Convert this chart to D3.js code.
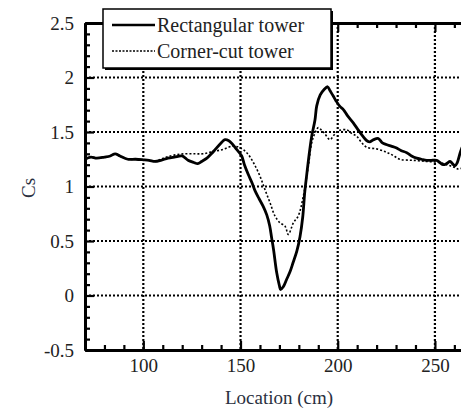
<!DOCTYPE html>
<html>
<head>
<style>
    body { margin: 0; background: #fff; }
</style>
<script src="https://d3js.org/d3.v7.min.js"></script>
</head>
<body>

<svg width="461" height="409"></svg>

<script>

    // Rectangular tower (solid)
    var rectLoc = [70, 73, 76, 80, 83, 85.5, 88, 92, 96, 100, 103, 106, 109, 112.7, 116, 120, 123, 126, 128, 130,
        132.7, 135, 137, 140, 142, 144, 146, 148, 150.6, 152, 154, 156, 157.5, 159.5, 161.6, 163.5, 165, 166, 167, 168.6,
        170, 170.6, 172, 173.7, 175.5, 177, 179, 180.6, 182, 183, 184, 185, 186.6, 188.3, 189.2, 191, 193, 194.8, 196, 197.7,
        199, 201, 202.9, 205, 208, 210.5, 213, 215, 216.6, 218.5, 220.9, 223, 225, 227.5, 230, 232.5, 235.5, 238, 240.6, 243,
        245.8, 248, 250.9, 252.5, 254.3, 256, 257.8, 259, 260.3, 261.5, 263, 264];
    var rectCs = [1.25, 1.27, 1.26, 1.27, 1.28, 1.30, 1.28, 1.25, 1.25, 1.245, 1.24, 1.23, 1.24, 1.26, 1.27, 1.28, 1.24, 1.22, 1.21, 1.23,
        1.26, 1.30, 1.34, 1.40, 1.43, 1.42, 1.385, 1.34, 1.28, 1.20, 1.11, 1.03, 0.96, 0.89, 0.82, 0.74, 0.64, 0.53, 0.42, 0.21,
        0.09, 0.055, 0.08, 0.147, 0.22, 0.30, 0.41, 0.54, 0.72, 0.94, 1.10, 1.25, 1.46, 1.61, 1.74, 1.84, 1.89, 1.915, 1.88, 1.83,
        1.79, 1.737, 1.706, 1.65, 1.584, 1.52, 1.46, 1.42, 1.41, 1.43, 1.44, 1.40, 1.385, 1.37, 1.355, 1.33, 1.31, 1.28, 1.26, 1.25,
        1.24, 1.24, 1.24, 1.22, 1.20, 1.21, 1.23, 1.21, 1.19, 1.22, 1.31, 1.36];

    // Corner-cut tower (dotted)
    var cutLoc = [70, 73, 76, 80, 83, 85.5, 88, 92, 96, 100, 103, 106, 109, 112, 116.3, 121.4, 126.6, 130.7, 135.8, 141,
        146, 149.7, 153.2, 156.6, 160, 162.6, 165.2, 167.7, 170.3, 172.9, 174.6, 177.2, 179.7, 182.3, 184.9, 186.6, 188.3, 190, 191.5, 193.5,
        196, 198, 200.3, 204.6, 207, 209.8, 212, 214.9, 220, 225, 228, 232, 238.9, 245.8, 252.6, 256, 259.5, 262, 264];
    var cutCs = [1.25, 1.27, 1.26, 1.27, 1.28, 1.30, 1.28, 1.25, 1.25, 1.245, 1.24, 1.23, 1.25, 1.27, 1.29, 1.30, 1.30, 1.30, 1.32, 1.34,
        1.37, 1.355, 1.31, 1.22, 1.095, 0.97, 0.85, 0.73, 0.667, 0.636, 0.56, 0.667, 0.73, 0.91, 1.19, 1.40, 1.49, 1.54, 1.52, 1.48,
        1.43, 1.47, 1.51, 1.52, 1.49, 1.46, 1.41, 1.36, 1.345, 1.315, 1.29, 1.25, 1.24, 1.23, 1.22, 1.20, 1.18, 1.16, 1.17];

    var xMajor = [100, 150, 200, 250];
    var yMajor = [-0.5, 0, 0.5, 1, 1.5, 2, 2.5];
    var yGrid = [0, 0.5, 1, 1.5, 2];
    var seriesNames = ["Rectangular tower", "Corner-cut tower"];

    var serif = "'Liberation Serif', 'Times New Roman', serif";
    var svg = d3.select("svg");

    // plot area is cut on the right by the picture edge
    var plotLeft = 85, plotTop = 23, plotBottom = 350;
    var xScale = d3.scaleLinear().domain([70, 270]).range([plotLeft, plotLeft + 200 * 1.944]);
    var yScale = d3.scaleLinear().domain([-0.5, 2.5]).range([plotBottom, plotTop]);

    var xMinor = d3.range(70, 271, 10).filter(function (d) { return xMajor.indexOf(d) < 0; });
    var yMinor = d3.range(-5, 26, 1).map(function (d) { return d / 10; })
        .filter(function (d) { return yMajor.indexOf(d) < 0; });

    // dotted grid
    var grid = svg.append("g");
    grid.selectAll(".vg").data(xMajor).enter().append("line")
        .attr("x1", function (d) { return xScale(d); })
        .attr("x2", function (d) { return xScale(d); })
        .attr("y1", plotTop).attr("y2", plotBottom)
        .attr("stroke", "#000").attr("stroke-width", 2.2).attr("stroke-dasharray", "2,2");
    grid.selectAll(".hg").data(yGrid).enter().append("line")
        .attr("x1", plotLeft).attr("x2", 461)
        .attr("y1", function (d) { return yScale(d); })
        .attr("y2", function (d) { return yScale(d); })
        .attr("stroke", "#000").attr("stroke-width", 2.2).attr("stroke-dasharray", "2,2");

    // curves
    var line = d3.line()
        .x(function (d) { return xScale(d[0]); })
        .y(function (d) { return yScale(d[1]); })
        .curve(d3.curveCatmullRom);

    var cutData = cutLoc.map(function (d, i) { return [d, cutCs[i]]; });
    var rectData = rectLoc.map(function (d, i) { return [d, rectCs[i]]; });

    svg.append("path").datum(cutData)
        .attr("d", line).attr("fill", "none")
        .attr("stroke", "#000").attr("stroke-width", 1.6).attr("stroke-dasharray", "2,2");
    svg.append("path").datum(rectData)
        .attr("d", line).attr("fill", "none")
        .attr("stroke", "#000").attr("stroke-width", 2.8).attr("stroke-linejoin", "round");

    // axes, ticks inward
    function styleAxis(g) {
        g.attr("font-family", serif).attr("font-size", 19);
        g.select(".domain").attr("stroke-width", 3);
        g.selectAll(".tick line").attr("stroke-width", 2.2);
        g.selectAll(".tick text").style("font-family", serif).style("font-size", "19px").attr("fill", "#222");
    }

    svg.append("g").attr("transform", "translate(" + plotLeft + ",0)")
        .call(d3.axisLeft(yScale).tickValues(yMinor).tickSize(-5).tickSizeOuter(0).tickFormat(""))
        .call(styleAxis);
    svg.append("g").attr("transform", "translate(" + plotLeft + ",0)")
        .call(d3.axisLeft(yScale).tickValues(yMajor).tickSize(-9).tickSizeOuter(0).tickPadding(11)
            .tickFormat(function (d) { return d; }))
        .call(styleAxis);

    svg.append("g").attr("transform", "translate(0," + plotBottom + ")")
        .call(d3.axisBottom(xScale).tickValues(xMinor).tickSize(-5).tickSizeOuter(0).tickFormat(""))
        .call(styleAxis);
    svg.append("g").attr("transform", "translate(0," + plotBottom + ")")
        .call(d3.axisBottom(xScale).tickValues(xMajor).tickSize(-9).tickSizeOuter(0).tickPadding(9))
        .call(styleAxis);

    svg.append("g").attr("transform", "translate(0," + plotTop + ")")
        .call(d3.axisTop(xScale).tickValues(xMinor).tickSize(-5).tickSizeOuter(0).tickFormat(""))
        .call(styleAxis);
    svg.append("g").attr("transform", "translate(0," + plotTop + ")")
        .call(d3.axisTop(xScale).tickValues(xMajor).tickSize(-9).tickSizeOuter(0).tickFormat(""))
        .call(styleAxis);

    // axis titles
    svg.append("text")
        .attr("transform", "translate(35,188) rotate(-90)")
        .attr("text-anchor", "middle").style("font-family", serif).style("font-size", "19px")
        .attr("fill", "#2a3040").text("Cs");
    svg.append("text")
        .attr("x", 279).attr("y", 404)
        .attr("text-anchor", "middle").style("font-family", serif).style("font-size", "19px")
        .attr("fill", "#2a3040").text("Location (cm)");

    // legend with shadow
    var legend = svg.append("g");
    legend.append("rect").attr("x", 105).attr("y", 11).attr("width", 228).attr("height", 59).attr("fill", "#000");
    legend.append("rect").attr("x", 103).attr("y", 9).attr("width", 228).attr("height", 59)
        .attr("fill", "#fff").attr("stroke", "#000").attr("stroke-width", 1.5);

    var legendRows = legend.selectAll(".row").data(seriesNames).enter().append("g")
        .attr("transform", function (d, i) { return "translate(0," + (25 + i * 26) + ")"; });
    legendRows.append("line")
        .attr("x1", 112).attr("x2", 155).attr("y1", 0).attr("y2", 0)
        .attr("stroke", "#000")
        .attr("stroke-width", function (d, i) { return i === 0 ? 2.5 : 1.6; })
        .attr("stroke-dasharray", function (d, i) { return i === 0 ? null : "2,1.5"; });
    legendRows.append("text")
        .attr("x", 157).attr("y", 7)
        .style("font-family", serif).style("font-size", "20px").attr("fill", "#222")
        .text(function (d) { return d; });

</script>
</body>
</html>
